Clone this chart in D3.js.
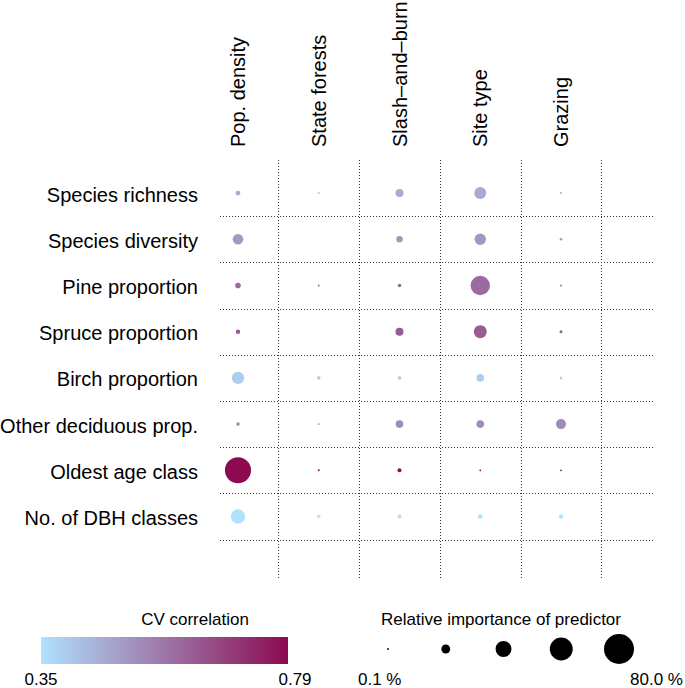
<!DOCTYPE html>
<html>
<head>
<meta charset="utf-8">
<script src="https://cdn.jsdelivr.net/npm/d3@7"></script>
<style>
  body { margin: 0; background: #fff; }
  text { font-family: "Liberation Sans", Arial, sans-serif; fill: #000; }
</style>
</head>
<body>
<svg id="chart" width="685" height="688"></svg>
<script>
// responses (rows) and predictors (columns)
const responses = ["Species richness", "Species diversity", "Pine proportion", "Spruce proportion",
  "Birch proportion", "Other deciduous prop.", "Oldest age class", "No. of DBH classes"]
const predictors = ["Pop. density", "State forests", "Slash\u2013and\u2013burn", "Site type", "Grazing"]

// CV correlation of each response model
const cvCorrelation = [0.46, 0.50, 0.595, 0.625, 0.39, 0.53, 0.79, 0.35]

// relative importance (%) of each predictor, one value per response (null = not in model)
const popDensity   = [8.5, 25, 10.8, 7.4, 30, 5.1, 69, 35.7]
const stateForests = [0, null, 0, null, 5.1, 0, 0.6, 5.1]
const slashBurn    = [17.6, 13.6, 5.1, 17.6, 5.1, 16.5, 6.2, 6.2]
const siteType     = [28.9, 27.2, 49.9, 31.8, 16.5, 16.5, 0, 8]
const grazing      = [0.6, 2.3, 0, 3.4, 2.3, 23.3, 0, 7.4]

// legend
const corrRange = [0.35, 0.79]
const corrLabels = ["0.35", "0.79"]
const sizeLegendValues = [0.1, 20.075, 40.05, 60.025, 80]
const sizeLabels = ["0.1 %", "80.0 %"]

const importance = [popDensity, stateForests, slashBurn, siteType, grazing]

const svg = d3.select('#chart')

// scales
const x = d3.scaleBand().domain(predictors).range([197.6, 601.4])
const y = d3.scaleBand().domain(responses).range([170, 539.6])
const r = d3.scaleLinear().domain([0, 80]).range([0.9, 15])
const color = d3.scaleLinear().domain(corrRange).range(["#B0E2FF", "#8B0A50"]).interpolate(d3.interpolateRgb)

// dotted grid
const grid = svg.append('g').attr('stroke', '#333').attr('stroke-width', 1)
  .attr('stroke-dasharray', '1,2').attr('fill', 'none')
grid.selectAll('line.v').data(predictors).enter().append('line').attr('class', 'v')
  .attr('x1', d => Math.round(x(d) + x.bandwidth()) + 0.5).attr('x2', d => Math.round(x(d) + x.bandwidth()) + 0.5)
  .attr('y1', 160).attr('y2', 580)
grid.selectAll('line.h').data(responses).enter().append('line').attr('class', 'h')
  .attr('y1', d => Math.round(y(d) + y.bandwidth()) + 0.5).attr('y2', d => Math.round(y(d) + y.bandwidth()) + 0.5)
  .attr('x1', 220).attr('x2', 655)

// row labels
svg.selectAll('text.row').data(responses).enter().append('text').attr('class', 'row')
  .attr('x', 198).attr('y', d => y(d) + y.bandwidth() / 2 + 8.5)
  .attr('text-anchor', 'end').style('font-size', '20px').text(d => d)

// column labels
svg.selectAll('text.col').data(predictors).enter().append('text').attr('class', 'col')
  .attr('transform', d => `translate(${x(d) + x.bandwidth() / 2 + 7},147) rotate(-90)`)
  .attr('text-anchor', 'start').style('font-size', '20px').text(d => d)

// bubbles
const cells = []
importance.forEach((col, j) => col.forEach((v, i) => {
  if (v !== null) cells.push({pred: predictors[j], resp: responses[i], value: v, corr: cvCorrelation[i]})
}))
svg.append('g').selectAll('circle').data(cells).enter().append('circle')
  .attr('cx', d => x(d.pred) + x.bandwidth() / 2)
  .attr('cy', d => y(d.resp) + y.bandwidth() / 2)
  .attr('r', d => r(d.value))
  .attr('fill', d => color(d.corr))

// colour legend
const lx = d3.scaleLinear().domain(corrRange).range([41, 288])
const grad = svg.append('defs').append('linearGradient').attr('id', 'cvgrad')
  .attr('x1', '0%').attr('x2', '100%').attr('y1', '0%').attr('y2', '0%')
grad.selectAll('stop').data(d3.range(0, 1.0001, 0.1)).enter().append('stop')
  .attr('offset', t => (t * 100) + '%')
  .attr('stop-color', t => color(corrRange[0] + t * (corrRange[1] - corrRange[0])))
svg.append('rect').attr('x', lx(corrRange[0])).attr('y', 637)
  .attr('width', lx(corrRange[1]) - lx(corrRange[0])).attr('height', 27)
  .attr('fill', 'url(#cvgrad)')
svg.append('text').attr('x', 195).attr('y', 625).attr('text-anchor', 'middle')
  .style('font-size', '17px').text('CV correlation')
svg.selectAll('text.cl').data(corrLabels).enter().append('text').attr('class', 'cl')
  .attr('x', (d, i) => lx(corrRange[i]) + (i === 0 ? 0 : 7))
  .attr('y', 685).attr('text-anchor', 'middle').style('font-size', '17px').text(d => d)

// size legend
const sx = d3.scalePoint().domain(sizeLegendValues).range([388, 619])
svg.append('g').selectAll('circle').data(sizeLegendValues).enter().append('circle')
  .attr('cx', d => sx(d)).attr('cy', 649).attr('r', d => r(d)).attr('fill', '#000')
svg.append('text').attr('x', 501).attr('y', 625).attr('text-anchor', 'middle')
  .style('font-size', '17px').text('Relative importance of predictor')
svg.append('text').attr('x', 358).attr('y', 685).style('font-size', '17px').text(sizeLabels[0])
svg.append('text').attr('x', 683).attr('y', 685).attr('text-anchor', 'end').style('font-size', '17px').text(sizeLabels[1])
</script>
</body>
</html>
